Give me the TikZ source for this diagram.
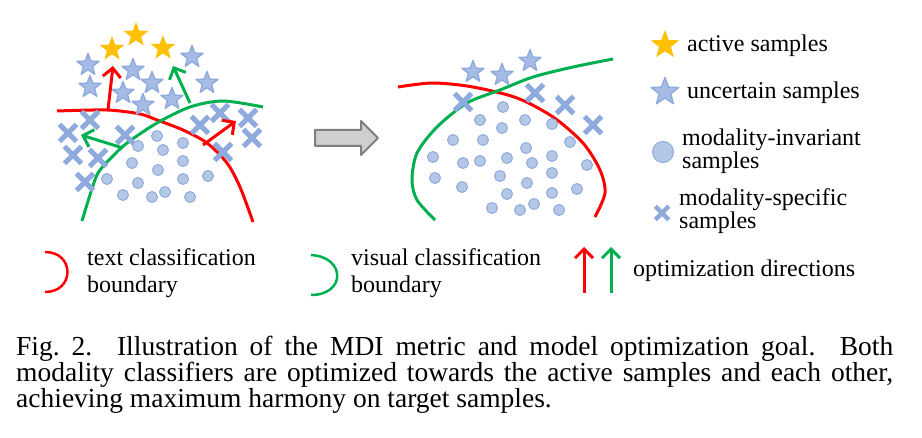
\documentclass[tikz,border=0pt]{standalone}
\usepackage{fontspec}
\setmainfont{Liberation Serif}
\usetikzlibrary{arrows.meta,shapes.geometric,shapes.misc}
\definecolor{mblue}{RGB}{143,170,220}
\definecolor{lblue}{RGB}{180,199,231}
\definecolor{sblue}{RGB}{166,188,228}
\definecolor{mgold}{RGB}{255,192,0}
\definecolor{mred}{RGB}{255,0,0}
\definecolor{mgreen}{RGB}{0,176,80}
\definecolor{lgray}{RGB}{208,206,206}
\definecolor{dgray}{RGB}{127,127,127}

\begin{document}
\begin{tikzpicture}[x=1pt,y=-1pt,>={Straight Barb[length=9pt,width=18pt]},
                    line join=round]
  \tikzstyle{active}=[star,star points=5,star point ratio=2.4,fill=mgold,inner sep=0pt,minimum size=26pt]
  \tikzstyle{uncertain}=[star,star points=5,star point ratio=2.4,fill=sblue,draw=mblue,line width=1.4pt,inner sep=0pt,minimum size=23pt]
  \tikzstyle{invariant}=[circle,fill=lblue,draw=mblue,line width=1pt,inner sep=0pt,minimum size=11pt]
  \tikzstyle{specific}=[cross out,draw=mblue,line width=5pt,inner sep=0pt,minimum size=12pt]
  \tikzstyle{tbound}=[mred,line width=3pt]
  \tikzstyle{vbound}=[mgreen,line width=3pt]
  \tikzstyle{label}=[anchor=base west,inner sep=0pt,font=\fontsize{24}{27}\selectfont]

  \useasboundingbox (0,0) rectangle (922,438);

  % left panel: boundaries before optimization
  \draw[tbound] plot[smooth] coordinates {(57,111) (107,110) (140,114) (157,120) (183,130) (207,143) (227,163) (240,187) (253,222)};
  \draw[vbound] plot[smooth] coordinates {(82,221) (90,195) (98,173) (112,157) (127,143) (157,123) (190,107) (223,101) (263,107)};

  \foreach \p [count=\i] in {(157,136),(138,146),(163,150),(183,143),(132,163),(183,161),(158,170),(107,179),
                             (138,183),(183,179),(208,176),(123,195),(152,197),(165,192),(190,197)}
    \node[invariant] (li\i) at \p {};
  \foreach \p [count=\i] in {(90,120),(68,133),(73,155),(98,158),(85,182),(125,135),(200,125),(220,113),
                             (248,118),(252,138),(223,152)}
    \node[specific] (ls\i) at \p {};
  \foreach \p [count=\i] in {(88,65),(133,70),(192,57),(90,87),(123,93),(152,83),(207,83),(143,105),(172,99)}
    \node[uncertain] (lu\i) at \p {};
  \foreach \p [count=\i] in {(136,35),(112,49),(163,48)}
    \node[active] (la\i) at \p {};

  \coordinate (r1s) at (108,110); \coordinate (r1e) at (113,66);
  \coordinate (r2s) at (203,145); \coordinate (r2e) at (236,121);
  \coordinate (g1s) at (190,103); \coordinate (g1e) at (173,66);
  \coordinate (g2s) at (123,148); \coordinate (g2e) at (81,135);
  \draw[->,tbound] (r1s) -- (r1e);
  \draw[->,tbound] (r2s) -- (r2e);
  \draw[->,vbound] (g1s) -- (g1e);
  \draw[->,vbound] (g2s) -- (g2e);

  % shift arrow
  \draw[dgray,fill=lgray,line width=2pt] (315,130) -- (361,130) -- (361,121) -- (378,138)
      -- (361,155) -- (361,146) -- (315,146) -- cycle;

  % right panel: boundaries after optimization
  \draw[tbound] plot[smooth] coordinates {(398,87) (433,83) (473,87) (517,98) (553,117) (583,143) (600,170) (605,193) (595,217)};
  \draw[vbound] plot[smooth] coordinates {(435,220) (417,200) (412,180) (417,153) (437,127) (467,103) (500,90) (533,77) (573,67) (613,59)};

  \foreach \p [count=\i] in {(503,107),(480,120),(502,128),(525,120),(552,124),(453,140),(483,140),(526,148),
                             (570,142),(433,157),(463,163),(480,161),(507,158),(532,163),(552,156),(587,165),
                             (435,178),(462,187),(500,176),(527,183),(552,173),(507,194),(552,193),(577,189),
                             (492,208),(520,210),(534,204),(559,210)}
    \node[invariant] (ri\i) at \p {};
  \foreach \p [count=\i] in {(463,102),(535,93),(565,105),(593,125)}
    \node[specific] (rs\i) at \p {};
  \foreach \p [count=\i] in {(473,72),(502,75),(530,61)}
    \node[uncertain] (ru\i) at \p {};

  % legend
  \node[active,minimum size=30pt] (kact) at (665,45) {};
  \node[label] (tact) at (687,52) {active samples};
  \node[uncertain,minimum size=29pt] (kunc) at (665,92) {};
  \node[label] (tunc) at (687,99) {uncertain samples};
  \node[invariant,minimum size=21pt] (kinv) at (663,152) {};
  \node[label] (tinv) at (682,146) {modality-invariant};
  \node[label] (tinv2) at (682,169) {samples};
  \node[specific,minimum size=9pt,line width=4.5pt] (kspe) at (662,213) {};
  \node[label] (tspe) at (679,206) {modality-specific};
  \node[label] (tspe2) at (679,229) {samples};

  \draw[mred,line width=2.5pt] (45,252) .. controls (75,252) and (75,292) .. (45,292);
  \node[label] (ttxt) at (87,266) {text classification};
  \node[label] (ttxt2) at (87,293) {boundary};
  \draw[mgreen,line width=2.5pt] (311,255) .. controls (346,257) and (346,295) .. (311,295);
  \node[label] (tvis) at (351,266) {visual classification};
  \node[label] (tvis2) at (351,293) {boundary};
  \coordinate (kr1) at (584,293); \coordinate (kr2) at (584,247);
  \coordinate (kg1) at (611,293); \coordinate (kg2) at (611,247);
  \draw[->,tbound] (kr1) -- (kr2);
  \draw[->,vbound] (kg1) -- (kg2);
  \node[label] (tdir) at (633,277) {optimization directions};

  % caption
  \node[anchor=base west,text width=877pt,align=justify,inner sep=0pt,
        font=\fontsize{27.5}{26}\selectfont] (cap) at (16,356)
    {Fig.~2.\hspace{0.9em}Illustration of the MDI metric and model optimization goal. Both\linebreak
     modality classifiers are optimized towards the active samples and each other,\linebreak
     achieving maximum harmony on target samples.};
\end{tikzpicture}
\end{document}
